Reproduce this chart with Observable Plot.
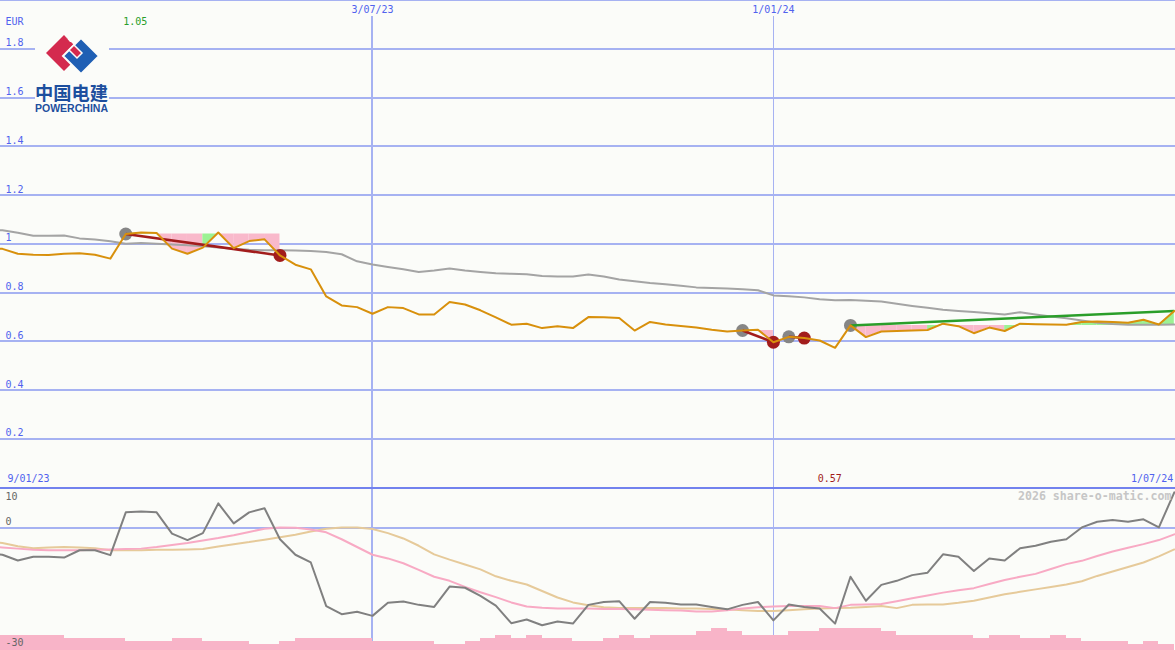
<!DOCTYPE html>
<html><head><meta charset="utf-8">
<script src="https://cdn.jsdelivr.net/npm/d3@7"></script>
<script src="https://cdn.jsdelivr.net/npm/@observablehq/plot@0.6"></script>
<style>
html,body{margin:0;padding:0;background:#fbfcf9;}
#chart{position:relative;width:1175px;height:650px;overflow:hidden;background:#fbfcf9;}
#chart > svg, #chart > div{position:absolute;left:0;}
</style></head><body><div id="chart"></div>
<script>
// ---------- data (weekly, Mondays) ----------
const startDate = "2023-01-09";
const endDate = "2024-07-01";
const price = [0.985,0.979,0.959,0.955,0.954,0.959,0.961,0.955,0.939,1.040,
  1.046,1.044,0.980,0.959,0.984,1.046,0.982,1.011,1.018,0.952,
  0.914,0.895,0.784,0.747,0.740,0.713,0.740,0.736,0.710,0.710,
  0.761,0.751,0.727,0.698,0.668,0.672,0.654,0.662,0.654,0.699,
  0.698,0.695,0.644,0.679,0.669,0.663,0.656,0.647,0.640,0.644,
  0.647,0.596,0.618,0.613,0.603,0.573,0.665,0.617,0.640,0.642,
  0.644,0.646,0.672,0.662,0.633,0.656,0.642,0.672,0.670,0.669,
  0.668,0.679,0.681,0.679,0.676,0.688,0.669,0.724];
const priceMA = [1.060,1.055,1.045,1.033,1.033,1.034,1.022,1.017,1.010,1.000,
  1.003,1.000,0.997,0.994,0.990,0.985,0.979,0.975,0.973,0.973,
  0.972,0.970,0.966,0.957,0.928,0.915,0.905,0.895,0.884,0.890,
  0.898,0.890,0.884,0.879,0.877,0.875,0.868,0.866,0.866,0.874,
  0.866,0.853,0.846,0.839,0.834,0.828,0.821,0.818,0.816,0.813,
  0.809,0.788,0.785,0.780,0.772,0.768,0.769,0.766,0.763,0.754,
  0.745,0.737,0.729,0.724,0.720,0.715,0.710,0.719,0.710,0.702,
  0.694,0.685,0.676,0.671,0.668,0.668,0.668,0.669];
const momentum = [-6.0,-6.5,-7.9,-7.0,-7.0,-7.2,-5.4,-5.4,-6.6,3.9,
  4.1,3.9,-1.3,-2.9,-1.2,6.1,1.2,3.9,4.9,-2.7,
  -6.5,-8.4,-19.1,-21.1,-20.5,-21.5,-18.3,-18.0,-18.8,-19.3,
  -14.3,-14.6,-16.6,-19.0,-23.3,-22.4,-23.8,-22.9,-23.4,-18.8,
  -18.1,-17.9,-22.2,-18.1,-18.3,-18.7,-18.7,-19.3,-19.9,-18.8,
  -18.1,-22.6,-18.7,-19.3,-19.7,-23.4,-11.9,-17.8,-13.9,-12.9,
  -11.5,-10.9,-6.4,-7.0,-10.5,-7.4,-7.9,-4.9,-4.3,-3.3,
  -2.7,0.2,1.6,2.0,1.6,2.2,0.2,8.8];
const momentumFastMA = [-4.5,-4.7,-5.0,-5.3,-5.4,-5.4,-5.4,-5.3,-5.2,-5.1,
  -5.0,-4.6,-4.1,-3.6,-3.0,-2.4,-1.7,-0.9,-0.1,0.2,
  0.1,-0.3,-1.0,-2.7,-4.6,-6.5,-7.4,-8.6,-10.2,-11.9,
  -12.9,-14.4,-15.7,-16.9,-18.2,-19.2,-19.5,-19.7,-19.7,-19.7,
  -19.8,-19.8,-19.9,-20.0,-20.1,-20.2,-20.4,-20.4,-20.1,-19.7,
  -19.4,-19.2,-19.1,-19.1,-19.1,-19.6,-18.8,-18.7,-18.6,-17.9,
  -17.2,-16.5,-15.8,-15.2,-14.7,-13.7,-12.7,-11.9,-11.2,-10.0,
  -8.8,-8.0,-6.8,-5.7,-4.8,-3.9,-2.9,-1.5];
const momentumSlowMA = [-3.2,-3.6,-4.4,-4.9,-4.7,-4.6,-4.7,-4.9,-5.4,-5.4,
  -5.4,-5.3,-5.3,-5.2,-5.1,-4.5,-3.9,-3.4,-2.8,-2.2,
  -1.6,-0.8,-0.1,0.2,0.2,-0.2,-1.2,-2.5,-4.3,-6.4,
  -7.7,-8.9,-10.1,-11.8,-12.9,-13.8,-15.4,-17.0,-18.2,-18.9,
  -19.4,-19.6,-19.6,-19.6,-19.6,-19.7,-19.7,-19.8,-19.9,-20.1,
  -20.3,-20.3,-20.1,-19.9,-19.7,-19.6,-19.5,-19.3,-19.1,-19.6,
  -18.8,-18.7,-18.7,-18.3,-17.8,-17.0,-16.2,-15.6,-15.0,-14.4,
  -13.8,-13.0,-11.7,-10.6,-9.5,-8.4,-6.9,-5.2];
// relative weekly volume (bar ending on each date)
const volume = [5,5,5,5,5,5,4,4,4,4,
  3,3,3,4,4,3,3,3,2,2,
  3,4,4,4,4,4,3,3,3,3,
  2,2,3,4,5,4,5,4,4,3,
  3,4,5,4,5,5,5,6,7,6,
  5,5,5,6,6,7,7,7,7,6,
  5,5,5,5,5,4,5,5,4,4,
  5,4,3,3,3,2,3,2];
// signals
const signalStart = ["2023-03-13","2023-12-18","2024-01-08","2024-02-05"];
const signalEnd   = ["2023-05-22","2024-01-01","2024-01-15","2024-07-01"];
const signalDir   = ["down","down","down","up"];
// axes
const priceTicks = [0.2,0.4,0.6,0.8,1,1.2,1.4,1.6,1.8];
const priceTickLabels = ["0.2","0.4","0.6","0.8","1","1.2","1.4","1.6","1.8"];
const priceGrid = [0,0.2,0.4,0.6,0.8,1,1.2,1.4,1.6,1.8,2];
const markDates = ["2023-07-03","2024-01-01"];
const markLabels = ["3/07/23","1/01/24"];
const rangeLabels = ["9/01/23","1/07/24"];
const currency = "EUR";
const momTicksTop = [10];
const momTicksLow = [0];
const momTicksBottom = [-30];
const watermark = "2026 share-o-matic.com";

// ---------- styles ----------
const BG="#fbfcf9", GRID="#a6b2f2", SEP="#7282ee", LABEL="#5062ee";
const ORANGE="#d8900c", GREYMA="#a4a4a4", MOM="#808080", PINK="#f8aac4", TAN="#e6ca9a", VOL="#f8b4c8";
const FILLPINK="#f9b9cb", FILLGREEN="#9cf294", RED="#a21c1c", GREEN="#2a9e2a", MARKG="#868686";
const FONT="DejaVu Sans Mono, monospace";

// ---------- build ----------
const dates = d3.utcMonday.range(new Date(startDate), d3.utcDay.offset(new Date(endDate), 1));
const rows = dates.map((date,i)=>({date, price:price[i], ma:priceMA[i], mom:momentum[i],
  fast:momentumFastMA[i], slow:momentumSlowMA[i], vol:volume[i]}));
const idx = s => dates.findIndex(d => +d === +new Date(s));
const signals = signalStart.map((s,k)=>{const a=idx(s), b=idx(signalEnd[k]);
  return {a, b, d1:dates[a], d2:dates[b], p1:price[a], p2:price[b], dir:signalDir[k]};});
const fillRows = [];
signals.forEach((s,k)=>{
  const level = s.p1;
  for (let i=s.a;i<s.b;i++){
    const up = price[i+1] >= level, seg = k+"-"+i;
    fillRows.push({date:dates[i], lo:level, hi:price[i], seg, up});
    fillRows.push({date:dates[i+1], lo:level, hi:price[i+1], seg, up});
  }
});
const iMax = d3.maxIndex(price), iMin = d3.minIndex(price);
const fmt = d3.format(".2f");

const X = {type:"utc", domain:[dates[0], dates[dates.length-1]], range:[-13.5, 1173.8], axis:null};
const base = {width:1175, marginTop:0, marginRight:0, marginBottom:0, marginLeft:0};
const T = {lineAnchor:"middle", fontSize:10};

const topPlot = Plot.plot({
  ...base, height:489,
  x:X, y:{domain:[0,2], range:[487,-0.5], axis:null},
  style:{background:"transparent", overflow:"hidden", fontFamily:FONT, fontSize:"10px"},
  marks:[
    Plot.ruleY(priceGrid.filter(d=>d>0), {stroke:GRID, strokeWidth:2, shapeRendering:"crispEdges"}),
    Plot.ruleX([markDates[0]], {x:d=>new Date(d), stroke:GRID, strokeWidth:2, insetTop:16, shapeRendering:"crispEdges"}),
    Plot.ruleX([markDates[1]], {x:d=>new Date(d), stroke:GRID, strokeWidth:1, insetTop:16, shapeRendering:"crispEdges"}),
    Plot.areaY(fillRows.filter(d=>!d.up), {x:"date", y1:"lo", y2:"hi", z:"seg", fill:FILLPINK}),
    Plot.areaY(fillRows.filter(d=>d.up), {x:"date", y1:"lo", y2:"hi", z:"seg", fill:FILLGREEN}),
    Plot.line(rows, {x:"date", y:"ma", stroke:GREYMA, strokeWidth:2}),
    Plot.dot(signals, {x:"d1", y:"p1", r:6.5, fill:MARKG}),
    Plot.dot(signals.filter(s=>s.dir==="down"), {x:"d2", y:"p2", r:6.5, fill:RED}),
    Plot.link(signals.filter(s=>s.dir==="down"), {x1:"d1", y1:"p1", x2:"d2", y2:"p2", stroke:RED, strokeWidth:2.5}),
    Plot.link(signals.filter(s=>s.dir==="up"), {x1:"d1", y1:"p1", x2:"d2", y2:"p2", stroke:GREEN, strokeWidth:2.5}),
    Plot.line(rows, {x:"date", y:"price", stroke:ORANGE, strokeWidth:2}),
    Plot.ruleY([0], {stroke:SEP, strokeWidth:2, shapeRendering:"crispEdges"}),
    Plot.text(priceTicks, {...T, y:d=>d, text:(d,i)=>priceTickLabels[i], frameAnchor:"left", dx:5, dy:-5.5, textAnchor:"start", fill:LABEL}),
    Plot.text([currency], {...T, frameAnchor:"top-left", dx:5, dy:21.5, textAnchor:"start", fill:LABEL}),
    Plot.text(markDates, {...T, x:d=>new Date(d), text:(d,i)=>markLabels[i], frameAnchor:"top", dy:9.2, fill:LABEL}),
    Plot.text([rangeLabels[0]], {...T, frameAnchor:"bottom-left", dx:7, dy:-10.7, textAnchor:"start", fill:LABEL}),
    Plot.text([rangeLabels[1]], {...T, frameAnchor:"bottom-right", dx:-2.3, dy:-10.7, textAnchor:"end", fill:LABEL}),
    Plot.text([iMax], {...T, x:i=>dates[i], text:i=>fmt(price[i]), frameAnchor:"top", dy:21, dx:-18, textAnchor:"start", fill:GREEN}),
    Plot.text([iMin], {...T, x:i=>dates[i], text:i=>fmt(price[i]), frameAnchor:"bottom", dy:-10.7, dx:-17.3, textAnchor:"start", fill:RED})
  ]
});

const volPlot = Plot.plot({
  ...base, height:163,
  x:X, y:{domain:[0,10], range:[163,132], axis:null},
  style:{background:"transparent", overflow:"hidden"},
  marks:[
    Plot.ruleX([markDates[0]], {x:d=>new Date(d), stroke:GRID, strokeWidth:2, shapeRendering:"crispEdges"}),
    Plot.ruleX([markDates[1]], {x:d=>new Date(d), stroke:GRID, strokeWidth:1, shapeRendering:"crispEdges"}),
    Plot.rect(rows, {x1:d=>d3.utcDay.offset(d.date,-7), x2:"date", y1:0, y2:"vol", fill:VOL, shapeRendering:"crispEdges"})
  ]
});

const momPlot = Plot.plot({
  ...base, height:163,
  x:X, y:{domain:[-30,10], range:[163,0], axis:null},
  style:{background:"transparent", overflow:"hidden", fontFamily:FONT, fontSize:"10px"},
  marks:[
    Plot.ruleY(momTicksLow, {stroke:GRID, strokeWidth:2, shapeRendering:"crispEdges"}),
    Plot.line(rows, {x:"date", y:"slow", stroke:TAN, strokeWidth:2}),
    Plot.line(rows, {x:"date", y:"fast", stroke:PINK, strokeWidth:2}),
    Plot.line(rows, {x:"date", y:"mom", stroke:MOM, strokeWidth:2}),
    Plot.text(momTicksTop, {...T, y:d=>d, text:d=>String(d), frameAnchor:"left", dx:5, dy:9, textAnchor:"start", fill:"#666"}),
    Plot.text(momTicksLow, {...T, y:d=>d, text:d=>String(d), frameAnchor:"left", dx:5, dy:-6, textAnchor:"start", fill:"#666"}),
    Plot.text(momTicksBottom, {...T, y:d=>d, text:d=>String(d), frameAnchor:"left", dx:5, dy:-8, textAnchor:"start", fill:"#666"}),
    Plot.text([watermark], {lineAnchor:"middle", frameAnchor:"top-right", dx:-4, dy:8.3, textAnchor:"end", fill:"#c6c6c6", fontWeight:"bold", fontSize:11.6})
  ]
});

const chart = document.getElementById("chart");
volPlot.style.top = "487px";
momPlot.style.top = "487px";
topPlot.style.top = "0px";
chart.appendChild(volPlot);
chart.appendChild(momPlot);
chart.appendChild(topPlot);

// logo (decoration)
const logo = document.createElement("div");
logo.style.top = "0px";
logo.innerHTML = `<svg width="120" height="120" xmlns="http://www.w3.org/2000/svg">
<rect x="35" y="28" width="74" height="87" fill="${BG}"/>
<path d="M64,35 L82,53 L64,71 L46,53 Z" fill="#d42a4e"/>
<path d="M81,38 L99,56 L81,74 L63,56 Z" fill="#1f5fb4" stroke="${BG}" stroke-width="2" stroke-linejoin="miter"/>
<path d="M74,45 L82,53 L77,58 L69,50 Z" fill="#d42a4e" stroke="${BG}" stroke-width="1.5"/>
<path d="M64,35 L68,39 L71,36 L74,36 L72,42 L70,42 Z" fill="${BG}"/>
<text x="35" y="100" font-family="Noto Sans CJK SC" font-weight="bold" font-size="18.5" fill="#1d4f9e" textLength="73" lengthAdjust="spacingAndGlyphs">中国电建</text>
<text x="35" y="112" font-family="Liberation Sans, Arial" font-weight="bold" font-size="10.3" fill="#1d4f9e" textLength="73" lengthAdjust="spacingAndGlyphs">POWERCHINA</text>
</svg>`;
chart.appendChild(logo);
</script></body></html>
